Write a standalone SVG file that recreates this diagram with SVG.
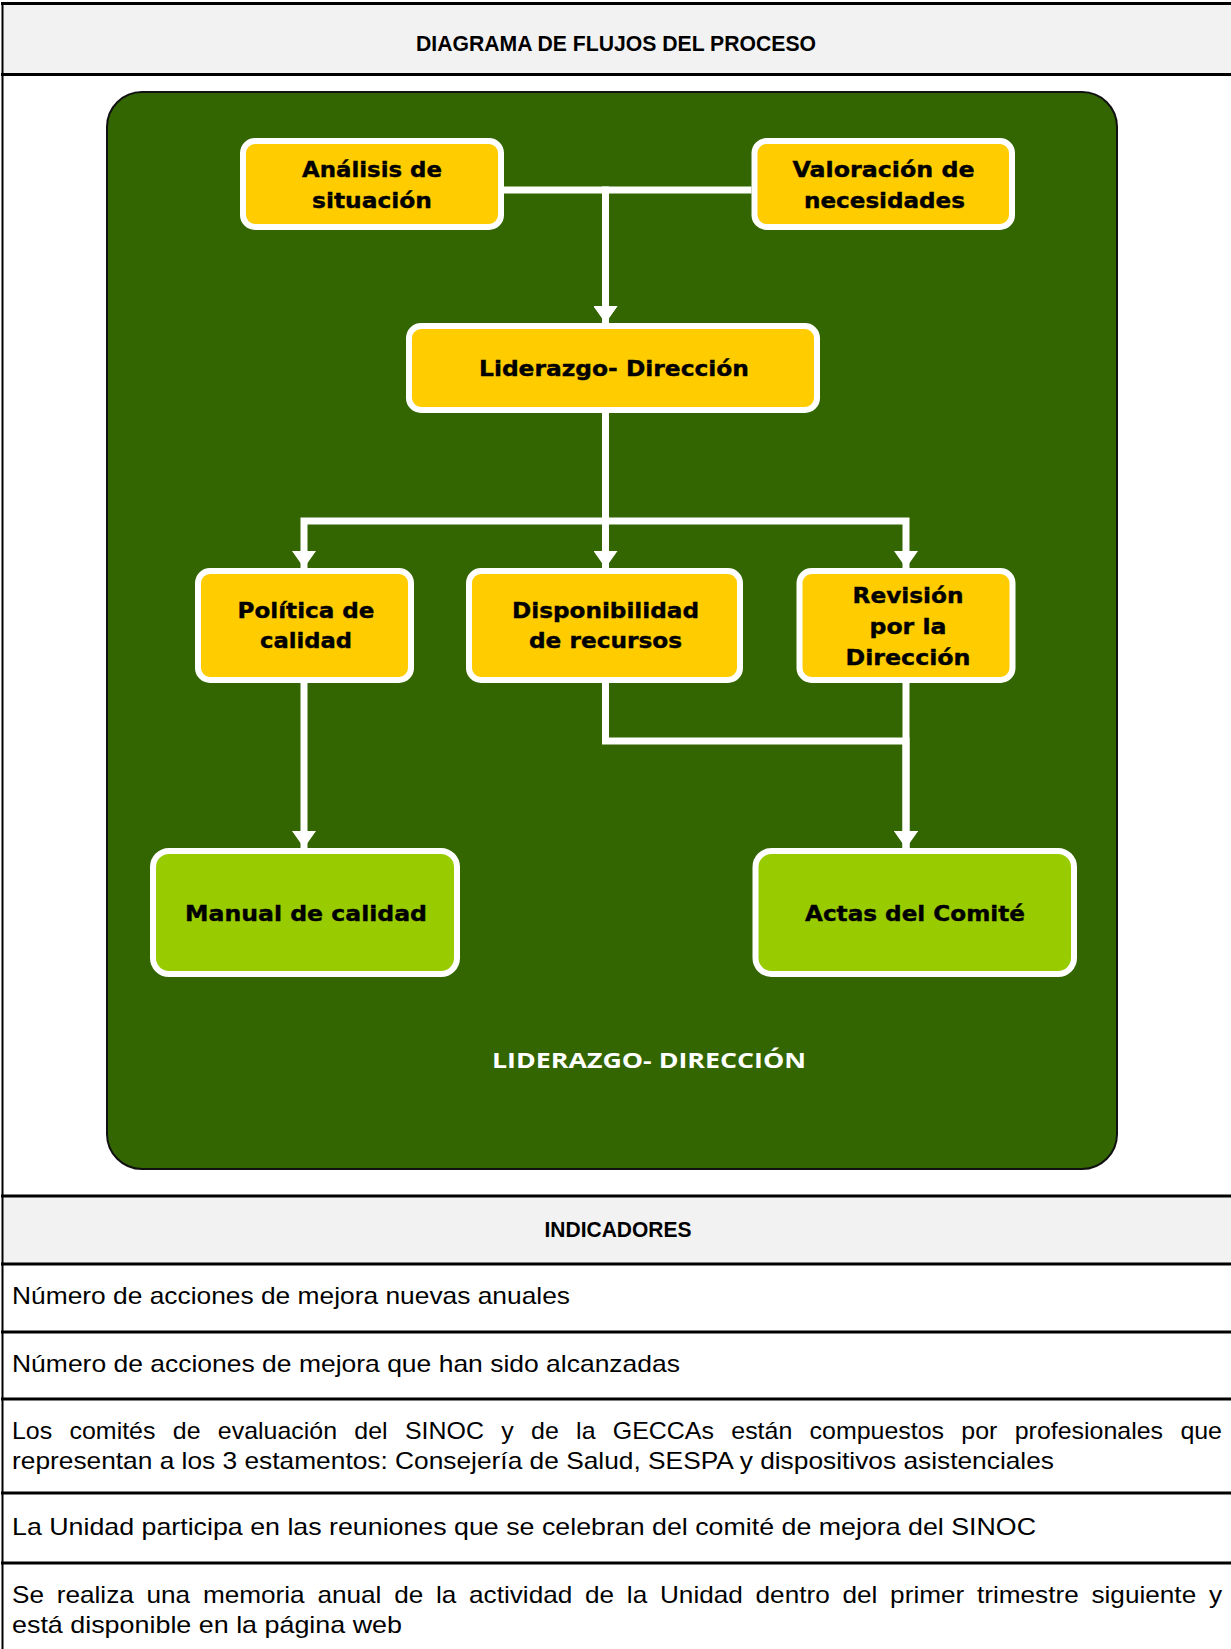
<svg xmlns="http://www.w3.org/2000/svg" width="1231" height="1649" viewBox="0 0 1231 1649">
<style>
.hdr{fill:#f2f2f2}
.rule{stroke:#000;stroke-width:3}
.htxt{font-family:"Liberation Sans",Arial,sans-serif;font-weight:bold;font-size:22px;fill:#000;text-anchor:middle}
.btxt{font-family:"Liberation Sans",Arial,sans-serif;font-size:24px;fill:#000}
.ynode{fill:#ffcc00;stroke:#fff;stroke-width:6}
.gnode{fill:#99cc00;stroke:#fff;stroke-width:6}
.ntxt{font-family:"DejaVu Sans","Liberation Sans",sans-serif;font-weight:bold;font-size:22px;fill:#000;stroke:#000;stroke-width:0.4;text-anchor:middle}
.conn{fill:none;stroke:#fff;stroke-width:7;stroke-linejoin:miter}
</style>
<defs>
<marker id="arr" viewBox="0 0 17 24" refX="17" refY="12" markerWidth="17" markerHeight="24" markerUnits="userSpaceOnUse" orient="auto">
<path d="M0,0 L17,12 L0,24 z" fill="#fff"/>
</marker>
</defs>
<rect width="1231" height="1649" fill="#fff"/>
<g id="table">
<rect class="hdr" x="2" y="3.5" width="1229" height="71"/>
<rect class="hdr" x="2" y="1196" width="1229" height="68"/>
<line class="rule" x1="1" y1="3.5" x2="1231" y2="3.5"/>
<line class="rule" x1="1" y1="74.5" x2="1231" y2="74.5"/>
<line class="rule" x1="1" y1="1196" x2="1231" y2="1196"/>
<line class="rule" x1="1" y1="1264" x2="1231" y2="1264"/>
<line class="rule" x1="1" y1="1332" x2="1231" y2="1332"/>
<line class="rule" x1="1" y1="1399" x2="1231" y2="1399"/>
<line class="rule" x1="1" y1="1493" x2="1231" y2="1493"/>
<line class="rule" x1="1" y1="1563" x2="1231" y2="1563"/>
<line x1="2.5" y1="2" x2="2.5" y2="1649" stroke="#000" stroke-width="2"/>
<text class="htxt" x="616" y="51" textLength="400" lengthAdjust="spacingAndGlyphs">DIAGRAMA DE FLUJOS DEL PROCESO</text>
<text class="htxt" x="618" y="1237" textLength="147" lengthAdjust="spacingAndGlyphs">INDICADORES</text>
<text class="btxt" x="12" y="1304" textLength="558" lengthAdjust="spacingAndGlyphs">Número de acciones de mejora nuevas anuales</text>
<text class="btxt" x="12" y="1372" textLength="668" lengthAdjust="spacingAndGlyphs">Número de acciones de mejora que han sido alcanzadas</text>
<text class="btxt" x="12" y="1439" word-spacing="10" textLength="1210" lengthAdjust="spacingAndGlyphs">Los comités de evaluación del SINOC y de la GECCAs están compuestos por profesionales que</text>
<text class="btxt" x="12" y="1469" textLength="1042" lengthAdjust="spacingAndGlyphs">representan a los 3 estamentos: Consejería de Salud, SESPA y dispositivos asistenciales</text>
<text class="btxt" x="12" y="1535" textLength="1024" lengthAdjust="spacingAndGlyphs">La Unidad participa en las reuniones que se celebran del comité de mejora del SINOC</text>
<text class="btxt" x="12" y="1603" word-spacing="5" textLength="1210" lengthAdjust="spacingAndGlyphs">Se realiza una memoria anual de la actividad de la Unidad dentro del primer trimestre siguiente y</text>
<text class="btxt" x="12" y="1633" textLength="390" lengthAdjust="spacingAndGlyphs">está disponible en la página web</text>
</g>
<g id="panel">
<rect x="107" y="92" width="1010" height="1077" rx="35" ry="35" fill="#336600" stroke="#111" stroke-width="2"/>
<text x="649" y="1068" font-family="'Open Sans','Liberation Sans',sans-serif" font-weight="bold" font-size="21" fill="#fff" text-anchor="middle" textLength="314" lengthAdjust="spacingAndGlyphs">LIDERAZGO- DIRECCIÓN</text>
</g>
<g id="connectors">
<path class="conn" d="M504,190 H605.5 V323" marker-end="url(#arr)"/>
<path class="conn" d="M751.5,190 H605.5 V323" marker-end="url(#arr)"/>
<path class="conn" d="M605.5,413 V521 H304 V568" marker-end="url(#arr)"/>
<path class="conn" d="M605.5,413 V568" marker-end="url(#arr)"/>
<path class="conn" d="M605.5,413 V521 H906 V568" marker-end="url(#arr)"/>
<path class="conn" d="M304,683 V848" marker-end="url(#arr)"/>
<path class="conn" d="M605.5,683 V741 H906 V848" marker-end="url(#arr)"/>
<path class="conn" d="M906,683 V848" marker-end="url(#arr)"/>
</g>
<g id="analisis">
<rect class="ynode" x="243" y="141" width="258" height="86" rx="12"/>
<text class="ntxt" x="372" y="177" textLength="140" lengthAdjust="spacingAndGlyphs">Análisis de</text>
<text class="ntxt" x="372" y="208" textLength="120" lengthAdjust="spacingAndGlyphs">situación</text>
</g>
<g id="valoracion">
<rect class="ynode" x="754.5" y="141" width="257.5" height="86" rx="12"/>
<text class="ntxt" x="883.5" y="177" textLength="182" lengthAdjust="spacingAndGlyphs">Valoración de</text>
<text class="ntxt" x="884.5" y="208" textLength="161" lengthAdjust="spacingAndGlyphs">necesidades</text>
</g>
<g id="liderazgo">
<rect class="ynode" x="409" y="326" width="408" height="84" rx="12"/>
<text class="ntxt" x="614" y="376" textLength="270" lengthAdjust="spacingAndGlyphs">Liderazgo- Dirección</text>
</g>
<g id="politica">
<rect class="ynode" x="198" y="571" width="213" height="109" rx="12"/>
<text class="ntxt" x="306" y="618" textLength="137" lengthAdjust="spacingAndGlyphs">Política de</text>
<text class="ntxt" x="306" y="648" textLength="92" lengthAdjust="spacingAndGlyphs">calidad</text>
</g>
<g id="disponibilidad">
<rect class="ynode" x="469" y="571" width="271" height="109" rx="12"/>
<text class="ntxt" x="605.5" y="618" textLength="187" lengthAdjust="spacingAndGlyphs">Disponibilidad</text>
<text class="ntxt" x="605.5" y="648" textLength="153" lengthAdjust="spacingAndGlyphs">de recursos</text>
</g>
<g id="revision">
<rect class="ynode" x="799.5" y="571" width="213" height="109" rx="12"/>
<text class="ntxt" x="908" y="603" textLength="111" lengthAdjust="spacingAndGlyphs">Revisión</text>
<text class="ntxt" x="908" y="634" textLength="77" lengthAdjust="spacingAndGlyphs">por la</text>
<text class="ntxt" x="908" y="665" textLength="125" lengthAdjust="spacingAndGlyphs">Dirección</text>
</g>
<g id="manual">
<rect class="gnode" x="153" y="851" width="304" height="123" rx="16"/>
<text class="ntxt" x="306" y="921" textLength="242" lengthAdjust="spacingAndGlyphs">Manual de calidad</text>
</g>
<g id="actas">
<rect class="gnode" x="755.5" y="851" width="318.5" height="123" rx="16"/>
<text class="ntxt" x="915" y="921" textLength="220" lengthAdjust="spacingAndGlyphs">Actas del Comité</text>
</g>
</svg>
